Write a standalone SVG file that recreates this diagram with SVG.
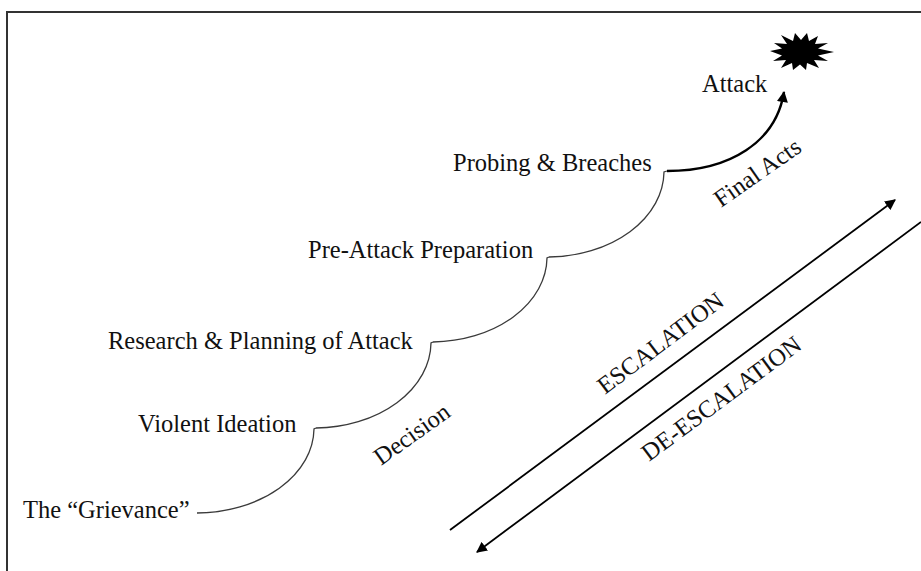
<svg xmlns="http://www.w3.org/2000/svg" width="921" height="571" viewBox="0 0 921 571">
<style>
.lbl{font-family:"Liberation Serif","Times New Roman",serif;font-size:24.5px;fill:#111}
.step{fill:none;stroke:#3a3a3a;stroke-width:1.3}
.bold{fill:none;stroke:#000;stroke-width:2.4}
.ax{fill:none;stroke:#000;stroke-width:1.8}
</style>
<defs>
<marker id="ah" viewBox="0 0 10 10" refX="9" refY="5" markerWidth="12" markerHeight="11" markerUnits="userSpaceOnUse" orient="auto">
<path d="M0,0 L10,5 L0,10 z" fill="#000"/>
</marker>
<marker id="ah2" viewBox="0 0 10 10" refX="9" refY="5" markerWidth="6" markerHeight="6" orient="auto">
<path d="M0,0 L10,5 L0,10 z" fill="#000"/>
</marker>
</defs>
<rect width="921" height="571" fill="#fff"/>
<path d="M7,571 V12 H921" fill="none" stroke="#333" stroke-width="2"/>

<g id="grievance"><text class="lbl" x="23" y="518">The “Grievance”</text></g>
<g id="violent-ideation"><text class="lbl" x="138" y="432">Violent Ideation</text></g>
<g id="research"><text class="lbl" x="108" y="349">Research &amp; Planning of Attack</text></g>
<g id="pre-attack"><text class="lbl" x="308" y="258">Pre-Attack Preparation</text></g>
<g id="probing"><text class="lbl" x="453" y="171">Probing &amp; Breaches</text></g>
<g id="attack"><text class="lbl" x="702" y="92">Attack</text>
<polygon fill="#000" points="834,52 818,55.5 828,61 814,60 819,68 807,63 806,70 800,64.5 793,70 792,63 781,68 786,60 773,61 782,55.5 770,51 782,48.5 774,43 787,44 781,35 793,41 795,33 801,40 807,33 809,41 818,36 815,44 828,43 818,48.5"/>
</g>
<g id="decision"><text class="lbl" transform="translate(381,466) rotate(-35.5)">Decision</text></g>
<g id="final-acts"><text class="lbl" transform="translate(721,208) rotate(-35)">Final Acts</text></g>
<g id="escalation"><text class="lbl" transform="translate(605,395) rotate(-37)">ESCALATION</text></g>
<g id="de-escalation"><text class="lbl" transform="translate(649,462) rotate(-36.5)">DE-ESCALATION</text></g>

<g id="connectors">
<path class="step" d="M197,513 A118,85 0 0 0 314,429 L316,428"/>
<path class="step" d="M316,428 A117,86 0 0 0 431,343 L433,342"/>
<path class="step" d="M433,342 A116,85 0 0 0 547,258 L549,257"/>
<path class="step" d="M549,257 A117,86 0 0 0 664,172 L667,171"/>
<path class="bold" d="M667,171 C730,171 776,142 784,92" marker-end="url(#ah)"/>
<line class="ax" x1="450" y1="530" x2="895" y2="200" marker-end="url(#ah2)"/>
<line class="ax" x1="921" y1="222" x2="477" y2="552" marker-end="url(#ah2)"/>
</g>
</svg>
